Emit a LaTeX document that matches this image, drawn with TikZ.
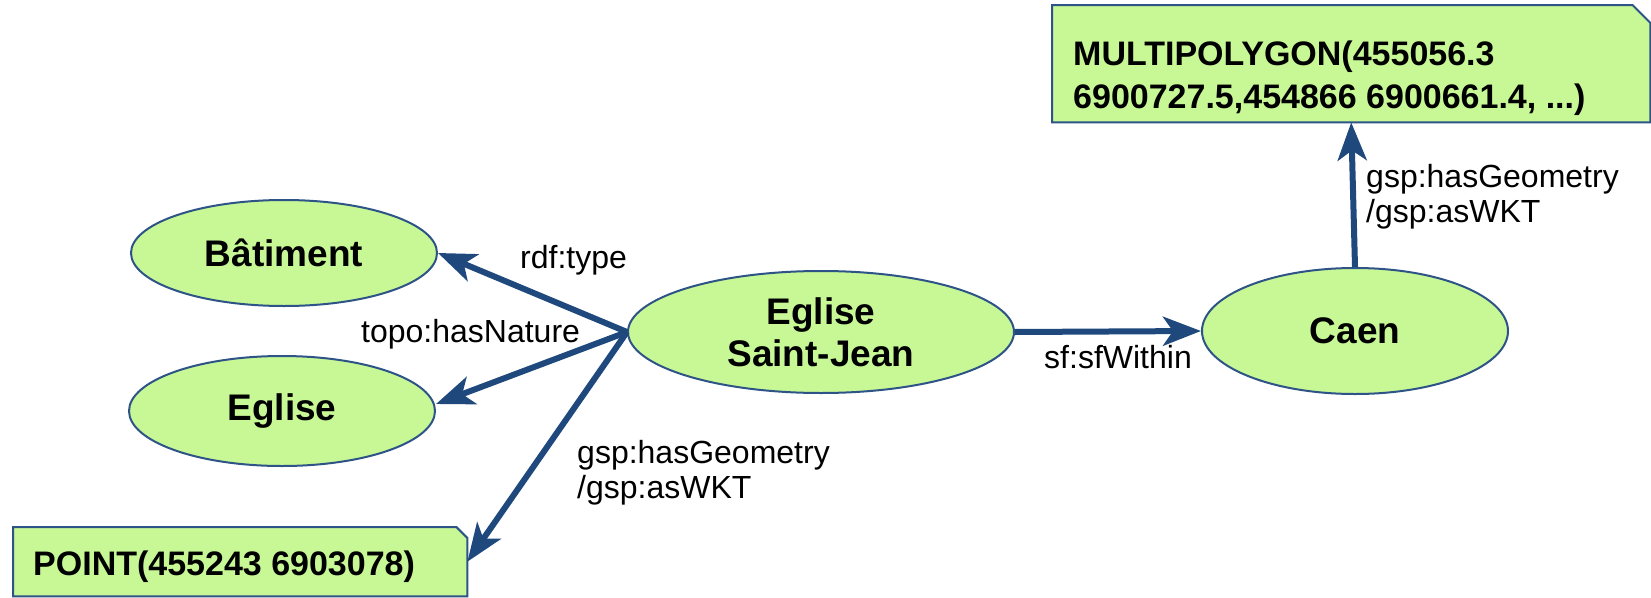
\documentclass[tikz,border=0pt]{standalone}
\usepackage{fontspec}
\setmainfont{Liberation Sans}
\usetikzlibrary{shapes.geometric,arrows.meta}
\definecolor{nodefill}{RGB}{200,247,150}
\definecolor{nodeline}{RGB}{46,84,135}
\definecolor{arrowcol}{RGB}{31,73,125}
\begin{document}
\begin{tikzpicture}[x=1pt,y=-1pt,
  ell/.style={ellipse, draw=nodeline, fill=nodefill, line width=2pt, inner sep=0pt,
    font=\fontsize{37}{42}\selectfont\bfseries, align=center},
  notebox/.style={rectangle, draw=none, inner sep=0pt, anchor=north west},
  notetext/.style={inner sep=0pt, anchor=base west, font=\fontsize{34}{43}\selectfont\bfseries, align=left},
  noteshape/.style={draw=nodeline, fill=nodefill, line width=2pt},
  rel/.style={draw=arrowcol, line width=6pt, -{Stealth[length=38pt,width=29pt,inset=10pt]}},
  lbl/.style={font=\fontsize{32}{35}\selectfont, inner sep=0pt, align=left}]
\useasboundingbox (0,0) rectangle (1651,597);

% nodes
\node[ell, minimum width=306pt, minimum height=106pt] (bat) at (284,253) {Bâtiment};
\node[ell, minimum width=306pt, minimum height=110pt] (egl) at (282,411) {Eglise};
\node[ell, minimum width=386pt, minimum height=122pt] (sj) at (821,332) {Eglise\\Saint-Jean};
\node[ell, minimum width=306pt, minimum height=126pt] (caen) at (1355,331) {Caen};

% POINT box
\node[notebox, minimum width=454pt, minimum height=69pt] (pt) at (13,527) {};
\filldraw[noteshape] (pt.south west) -- (pt.north west) -- ([xshift=-11pt]pt.north east)
  -- ([yshift=-11pt]pt.north east) -- (pt.south east) -- cycle;
\node[notetext] (pttext) at (33,575) {POINT(455243 6903078)};

% MULTIPOLYGON box
\node[notebox, minimum width=598pt, minimum height=117pt] (mp) at (1052,5) {};
\filldraw[noteshape] (mp.south west) -- (mp.north west) -- ([xshift=-18pt]mp.north east)
  -- ([yshift=-18pt]mp.north east) -- (mp.south east) -- cycle;
\node[notetext] (mptext) at (1073,108) {MULTIPOLYGON(455056.3\\6900727.5,454866 6900661.4, ...)};

% connectors
\draw[rel] (sj.west) -- (bat.east);
\draw[rel] (sj.west) -- ([yshift=7pt]egl.east);
\draw[rel] (sj.west) -- (pt.east);
\draw[rel] (sj.east) -- (caen.west);
\draw[rel] (caen.north) -- (mp.south);

% labels
\node[lbl, anchor=base west] (l1) at (520,268) {rdf:type};
\node[lbl, anchor=base west] (l2) at (361,342) {topo:hasNature};
\node[lbl, anchor=base west] (l3) at (577,498) {gsp:hasGeometry\\/gsp:asWKT};
\node[lbl, anchor=base] (l4) at (1118,368) {sf:sfWithin};
\node[lbl, anchor=base west] (l5) at (1366,222) {gsp:hasGeometry\\/gsp:asWKT};
\end{tikzpicture}
\end{document}
